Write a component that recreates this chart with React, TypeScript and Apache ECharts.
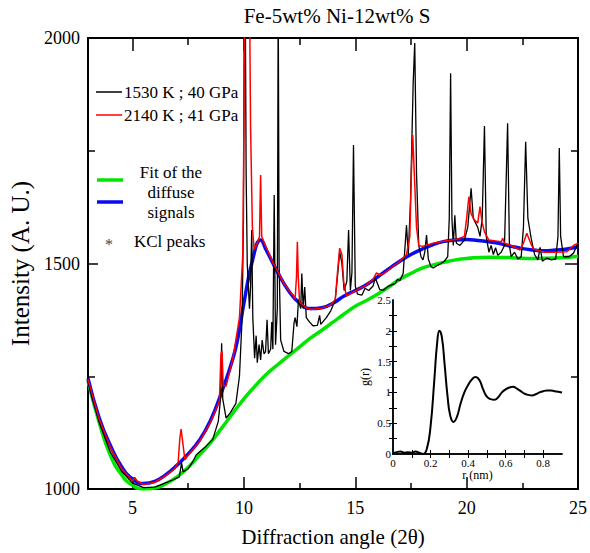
import React, { useEffect, useRef } from 'react';
import * as echarts from 'echarts';

const TITLE = 'Fe-5wt% Ni-12wt% S';
const X_NAME = 'Diffraction angle (2θ)';
const Y_NAME = 'Intensity (A. U.)';
const X_LABELS = [5, 10, 15, 20, 25];
const X_MAJOR_TICKS = [5, 10, 15, 20];
const X_MINOR_TICKS = [7.5, 12.5, 17.5, 22.5];
const Y_LABELS = [1000, 1500, 2000];
const Y_MAJOR_TICKS = [1500];
const Y_MINOR_TICKS = [1250, 1750];
const INSET_X_LABELS = [0, 0.2, 0.4, 0.6, 0.8];
const INSET_Y_LABELS = [0, 0.5, 1, 1.5, 2, 2.5];
const INSET_X_TICKS = [0.1, 0.2, 0.3, 0.4, 0.5, 0.6, 0.7, 0.8];
const INSET_Y_TICKS = [0.25, 0.5, 0.75, 1, 1.25, 1.5, 1.75, 2, 2.25];

const LEGEND_BLACK = '1530 K ; 40 GPa';
const LEGEND_RED = '2140 K ; 41 GPa';
const LEGEND_FIT = ['Fit of the', 'diffuse', 'signals'];
const LEGEND_KCL = 'KCl peaks';

const greenFit = [
  [3, 1240], [3.5, 1148], [4, 1075], [4.5, 1032], [5, 1008], [5.5, 1000], [6, 1002], [6.5, 1012],
  [7, 1027], [7.5, 1048], [8, 1075], [8.5, 1103], [9, 1135], [9.5, 1168], [10, 1200], [10.5, 1228],
  [11, 1254], [11.5, 1275], [12, 1295], [12.5, 1315], [13, 1335], [13.5, 1352], [14, 1370], [14.5, 1388],
  [15, 1405], [15.5, 1418], [16, 1432], [16.5, 1448], [17, 1465], [17.5, 1478], [18, 1490], [18.5, 1497],
  [19, 1503], [19.5, 1508], [20, 1511], [21, 1514], [22, 1513], [23, 1511], [24, 1512], [25, 1516],
];

const blueFit = [
  [3, 1245], [3.5, 1158], [4, 1097], [4.5, 1050], [5, 1022], [5.5, 1012], [6, 1017], [6.5, 1032],
  [7, 1053], [7.5, 1078], [8, 1108], [8.5, 1152], [9, 1215], [9.5, 1288], [9.75, 1340], [10, 1412],
  [10.4, 1510], [10.75, 1552], [11, 1530], [11.5, 1482], [12, 1440], [12.5, 1412], [13, 1400], [13.5, 1402],
  [14, 1412], [14.5, 1428], [15, 1440], [15.5, 1453], [16, 1470], [16.5, 1488], [17, 1505], [17.5, 1520],
  [18, 1532], [18.5, 1542], [19, 1549], [19.5, 1552], [20, 1553], [20.5, 1551], [21, 1548], [21.5, 1544],
  [22, 1538], [22.5, 1533], [23, 1530], [23.5, 1528], [24, 1530], [24.5, 1532], [25, 1537],
];

const redPattern = [
  [3, 1243], [3.5, 1155], [4, 1093], [4.5, 1046], [5, 1018], [5.1, 1026], [5.2, 1018], [5.5, 1010],
  [6, 1015], [6.5, 1030], [6.9, 1045], [7.05, 1060], [7.12, 1110], [7.18, 1133], [7.25, 1105], [7.35, 1065],
  [7.5, 1075], [8, 1105], [8.5, 1148], [8.9, 1195], [8.97, 1300], [9.02, 1305], [9.07, 1230], [9.2, 1228],
  [9.5, 1288], [9.8, 1380], [9.95, 1520], [10.0, 1800], [10.03, 2100], [10.25, 2100], [10.3, 1800],
  [10.38, 1580], [10.46, 1532], [10.6, 1545], [10.7, 1560], [10.75, 1696], [10.8, 1560], [10.9, 1548],
  [11.1, 1525], [11.3, 1502], [11.5, 1484], [11.8, 1455], [12.0, 1442], [12.3, 1422], [12.36, 1470],
  [12.4, 1548], [12.44, 1470], [12.5, 1414], [12.8, 1402], [13.0, 1398], [13.5, 1401], [13.9, 1408],
  [14.1, 1420], [14.2, 1480], [14.3, 1534], [14.4, 1520], [14.48, 1460], [14.6, 1428], [14.9, 1436],
  [15.2, 1445], [15.5, 1452], [15.8, 1465], [15.95, 1479], [16.1, 1475], [16.3, 1478], [16.6, 1490],
  [17.0, 1505], [17.3, 1520], [17.45, 1560], [17.52, 1700], [17.58, 1785], [17.65, 1700], [17.75, 1580],
  [17.85, 1540], [18.0, 1538], [18.5, 1545], [19.0, 1550], [19.5, 1553], [19.9, 1560], [20.0, 1600],
  [20.1, 1648], [20.2, 1610], [20.35, 1596], [20.5, 1590], [20.6, 1626], [20.7, 1590], [20.8, 1570],
  [21.0, 1552], [21.3, 1550], [21.55, 1548], [21.62, 1556], [21.7, 1545], [22.0, 1540], [22.4, 1530],
  [22.55, 1545], [22.7, 1567], [22.85, 1548], [23.0, 1532], [23.5, 1525], [24.0, 1525], [24.5, 1526],
  [24.8, 1540], [25.0, 1545],
];

const blackPattern = [
  [3, 1238], [3.5, 1148], [4, 1082], [4.5, 1040], [5, 1013], [5.5, 1003], [6, 1004], [6.4, 1012],
  [6.8, 1020], [7.1, 1027], [7.2, 1058], [7.27, 1038], [7.5, 1045], [7.7, 1060], [7.85, 1075], [8.0, 1082],
  [8.3, 1095], [8.6, 1110], [8.85, 1150], [8.95, 1200], [9.0, 1323], [9.05, 1200], [9.2, 1157], [9.4, 1170],
  [9.64, 1190], [9.8, 1250], [9.92, 1380], [9.98, 1600], [10.02, 2100], [10.06, 2100], [10.1, 1700],
  [10.15, 1500], [10.25, 1400], [10.3, 1450], [10.35, 1574], [10.4, 1380], [10.48, 1290], [10.55, 1340],
  [10.6, 1280], [10.68, 1320], [10.75, 1286], [10.82, 1330], [10.9, 1300], [10.97, 1304], [11.04, 1375],
  [11.1, 1300], [11.2, 1310], [11.25, 1370], [11.3, 1310], [11.36, 1652], [11.42, 1320], [11.5, 1400],
  [11.54, 2100], [11.58, 1500], [11.65, 1330], [11.8, 1305], [12.0, 1300], [12.15, 1305], [12.25, 1368],
  [12.3, 1380], [12.38, 1360], [12.45, 1420], [12.55, 1400], [12.6, 1478], [12.66, 1400], [12.73, 1448],
  [12.8, 1380], [12.95, 1370], [13.1, 1362], [13.3, 1363], [13.4, 1385], [13.45, 1365], [13.7, 1380],
  [13.9, 1395], [14.1, 1419], [14.2, 1470], [14.3, 1526], [14.4, 1500], [14.5, 1440], [14.62, 1460],
  [14.7, 1574], [14.78, 1440], [14.85, 1480], [14.92, 1763], [15.0, 1450], [15.1, 1432], [15.3, 1430],
  [15.44, 1445], [15.6, 1440], [15.8, 1450], [15.9, 1468], [16.0, 1455], [16.1, 1442], [16.26, 1441],
  [16.5, 1450], [16.8, 1456], [16.9, 1465], [17.0, 1462], [17.15, 1478], [17.3, 1585], [17.38, 1520],
  [17.48, 1640], [17.6, 1900], [17.67, 1989], [17.75, 1700], [17.85, 1540], [17.95, 1515], [18.04, 1508],
  [18.12, 1525], [18.2, 1563], [18.28, 1510], [18.4, 1493], [18.5, 1490], [18.7, 1496], [18.85, 1500],
  [19.0, 1505], [19.15, 1515], [19.22, 1600], [19.28, 1922], [19.34, 1600], [19.4, 1540], [19.47, 1607],
  [19.54, 1545], [19.7, 1540], [19.9, 1552], [20.05, 1580], [20.2, 1667], [20.3, 1600], [20.4, 1590],
  [20.5, 1580], [20.6, 1560], [20.7, 1600], [20.8, 1805], [20.88, 1560], [21.0, 1525], [21.1, 1540],
  [21.2, 1520], [21.3, 1535], [21.4, 1518], [21.55, 1525], [21.7, 1540], [21.84, 1811], [21.92, 1540],
  [22.0, 1515], [22.15, 1525], [22.3, 1510], [22.45, 1515], [22.55, 1580], [22.65, 1770], [22.75, 1600],
  [22.9, 1555], [23.05, 1520], [23.2, 1508], [23.3, 1536], [23.4, 1505], [23.6, 1512], [23.8, 1508],
  [24.0, 1510], [24.1, 1560], [24.16, 1756], [24.22, 1560], [24.35, 1515], [24.6, 1515], [24.8, 1523],
  [24.95, 1540], [25, 1545],
];

const kclPeaks = [
  [7.2, 1155], [10.1, 1938], [14.37, 1551], [15.92, 1492], [17.46, 1827], [20.02, 1665], [22.73, 1590],
];

const grData = [
  [0, 0.01], [0.02, 0.03], [0.04, 0.04], [0.06, 0.02], [0.08, 0.03], [0.1, 0.02], [0.12, 0.04],
  [0.14, 0.02], [0.16, 0.0], [0.18, 0.08], [0.2, 0.45], [0.22, 1.2], [0.235, 1.8], [0.247, 2.0],
  [0.26, 1.9], [0.275, 1.45], [0.29, 0.95], [0.305, 0.62], [0.322, 0.52], [0.34, 0.6], [0.36, 0.82],
  [0.38, 1.0], [0.4, 1.12], [0.42, 1.21], [0.44, 1.25], [0.46, 1.2], [0.48, 1.05], [0.5, 0.93],
  [0.52, 0.89], [0.54, 0.88], [0.56, 0.92], [0.58, 1.0], [0.6, 1.05], [0.62, 1.08], [0.64, 1.09],
  [0.66, 1.06], [0.68, 1.02], [0.7, 0.98], [0.72, 0.96], [0.74, 0.95], [0.76, 0.97], [0.78, 1.0],
  [0.8, 1.02], [0.82, 1.03], [0.84, 1.03], [0.86, 1.02], [0.88, 1.01], [0.9, 1.0],
];

const FONT = "'Liberation Serif', 'Times New Roman', serif";
const plain = (v: number) => String(v);

function tickAxis(opts: any) {
  return {
    type: 'value',
    splitLine: { show: false },
    axisLine: { show: false },
    axisLabel: { show: false },
    axisTick: { show: false },
    ...opts,
  };
}

function serifText(x: number, y: number, text: string, size: number, align: string, fill = '#000') {
  return {
    type: 'text', x, y,
    style: { text, font: `${size}px ${FONT}`, fill, align, verticalAlign: 'middle' },
  };
}

export default function App() {
  const ref = useRef<HTMLDivElement>(null);
  useEffect(() => {
    if (!ref.current) return;
    const chart = echarts.init(ref.current, null, { renderer: 'svg' });
    const lineBlack = { show: true, lineStyle: { color: '#000', width: 2 } };
    const thin = { show: true, lineStyle: { color: '#000', width: 1.5 } };
    const mainX = { gridIndex: 0, min: 3, max: 25 };
    const mainY = { gridIndex: 0, min: 1000, max: 2000 };
    const insetX = { gridIndex: 1, min: 0, max: 0.9 };
    const insetY = { gridIndex: 1, min: 0, max: 2.5 };
    const tick = (len: number, vals: number[], w = 1.5) => ({ show: true, inside: true, length: len, customValues: vals, lineStyle: { color: '#000', width: w } });
    const option: any = {
      animation: false,
      backgroundColor: '#fff',
      textStyle: { fontFamily: FONT },
      grid: [
        { left: 88, top: 38, width: 493, height: 451, containLabel: false },
        { left: 393, top: 300, width: 169, height: 154, show: true, backgroundColor: '#fff', borderWidth: 0 },
      ],
      xAxis: [
        tickAxis({
          ...mainX, position: 'bottom', axisLine: lineBlack, axisTick: tick(12, X_MAJOR_TICKS),
          axisLabel: { show: true, customValues: X_LABELS, formatter: plain, fontSize: 18, color: '#000', fontFamily: FONT, margin: 10 },
          name: X_NAME, nameLocation: 'middle', nameGap: 37,
          nameTextStyle: { fontSize: 21, color: '#000', fontFamily: FONT },
        }),
        tickAxis({ ...mainX, position: 'bottom', axisTick: tick(6, X_MINOR_TICKS) }),
        tickAxis({ ...mainX, position: 'top', axisLine: lineBlack, axisTick: tick(13, X_MAJOR_TICKS) }),
        tickAxis({ ...mainX, position: 'top', axisTick: tick(7, X_MINOR_TICKS) }),
        tickAxis({
          ...insetX, position: 'bottom', axisLine: thin, axisTick: tick(4, INSET_X_TICKS, 1),
          axisLabel: { show: true, customValues: INSET_X_LABELS, formatter: plain, fontSize: 11, color: '#000', fontFamily: FONT, margin: 3 },
          name: 'r (nm)', nameLocation: 'middle', nameGap: 13,
          nameTextStyle: { fontSize: 12, color: '#000', fontFamily: FONT },
        }),
        tickAxis({ ...insetX, position: 'top', axisLine: thin, axisTick: tick(4, INSET_X_TICKS, 1) }),
      ],
      yAxis: [
        tickAxis({
          ...mainY, position: 'left', axisLine: lineBlack, axisTick: tick(10, Y_MAJOR_TICKS),
          axisLabel: { show: true, customValues: Y_LABELS, formatter: plain, fontSize: 18, color: '#000', fontFamily: FONT, margin: 8 },
          name: Y_NAME, nameLocation: 'middle', nameGap: 55, nameRotate: 90,
          nameTextStyle: { fontSize: 25, color: '#000', fontFamily: FONT },
        }),
        tickAxis({ ...mainY, position: 'left', axisTick: tick(7, Y_MINOR_TICKS) }),
        tickAxis({ ...mainY, position: 'right', axisLine: lineBlack, axisTick: tick(13, Y_MAJOR_TICKS) }),
        tickAxis({ ...mainY, position: 'right', axisTick: tick(7, Y_MINOR_TICKS) }),
        tickAxis({
          ...insetY, position: 'left', axisLine: thin, axisTick: tick(4, INSET_Y_TICKS, 1),
          axisLabel: { show: true, customValues: INSET_Y_LABELS, formatter: plain, fontSize: 11, color: '#000', fontFamily: FONT, margin: 2 },
          name: 'g(r)', nameLocation: 'middle', nameGap: 22, nameRotate: 90,
          nameTextStyle: { fontSize: 12, color: '#000', fontFamily: FONT },
        }),
        tickAxis({ ...insetY, position: 'right', axisLine: thin, axisTick: tick(4, INSET_Y_TICKS, 1) }),
      ],
      series: [
        { type: 'line', name: 'green', xAxisIndex: 0, yAxisIndex: 0, data: greenFit, smooth: true, showSymbol: false, symbol: 'none', lineStyle: { color: '#00e600', width: 3.5 }, z: 2 },
        { type: 'line', name: 'blue', xAxisIndex: 0, yAxisIndex: 0, data: blueFit, smooth: true, showSymbol: false, symbol: 'none', lineStyle: { color: '#0a0af0', width: 3.5 }, z: 3 },
        { type: 'line', name: LEGEND_BLACK, xAxisIndex: 0, yAxisIndex: 0, data: blackPattern, showSymbol: false, symbol: 'none', lineStyle: { color: '#000', width: 1.3 }, z: 4 },
        { type: 'line', name: LEGEND_RED, xAxisIndex: 0, yAxisIndex: 0, data: redPattern, showSymbol: false, symbol: 'none', lineStyle: { color: '#ff0000', width: 1.5 }, z: 5 },
        {
          type: 'scatter', name: 'KCl', xAxisIndex: 0, yAxisIndex: 0, data: kclPeaks, symbolSize: 1,
          itemStyle: { opacity: 0 }, z: 6,
          label: { show: true, position: 'inside', formatter: '*', fontSize: 16, color: '#444', fontFamily: FONT, offset: [0, 3] },
        },
        { type: 'line', name: 'g(r)', xAxisIndex: 4, yAxisIndex: 4, data: grData, smooth: true, showSymbol: false, symbol: 'none', lineStyle: { color: '#000', width: 2 }, z: 5 },
      ],
      graphic: [
        serifText(337, 16, TITLE, 21, 'center'),
        { type: 'line', shape: { x1: 96, y1: 92, x2: 122, y2: 92 }, style: { stroke: '#000', lineWidth: 1.5 } },
        serifText(124, 92, LEGEND_BLACK, 17, 'left'),
        { type: 'line', shape: { x1: 96, y1: 115, x2: 122, y2: 115 }, style: { stroke: '#ff0000', lineWidth: 1.5 } },
        serifText(124, 115, LEGEND_RED, 17, 'left'),
        { type: 'line', shape: { x1: 97, y1: 180, x2: 123, y2: 180 }, style: { stroke: '#00e600', lineWidth: 3.5 } },
        { type: 'line', shape: { x1: 97, y1: 202, x2: 123, y2: 202 }, style: { stroke: '#0a0af0', lineWidth: 3.5 } },
        serifText(171, 172, LEGEND_FIT[0], 17, 'center'),
        serifText(171, 192, LEGEND_FIT[1], 17, 'center'),
        serifText(171, 212, LEGEND_FIT[2], 17, 'center'),
        serifText(109, 244, '*', 16, 'center', '#444'),
        serifText(134, 241, LEGEND_KCL, 17, 'left'),
      ],
    };
    chart.setOption(option);
    return () => chart.dispose();
  }, []);
  return <div ref={ref} style={{ position: 'absolute', left: 0, top: 0, width: 590, height: 553 }} />;
}
